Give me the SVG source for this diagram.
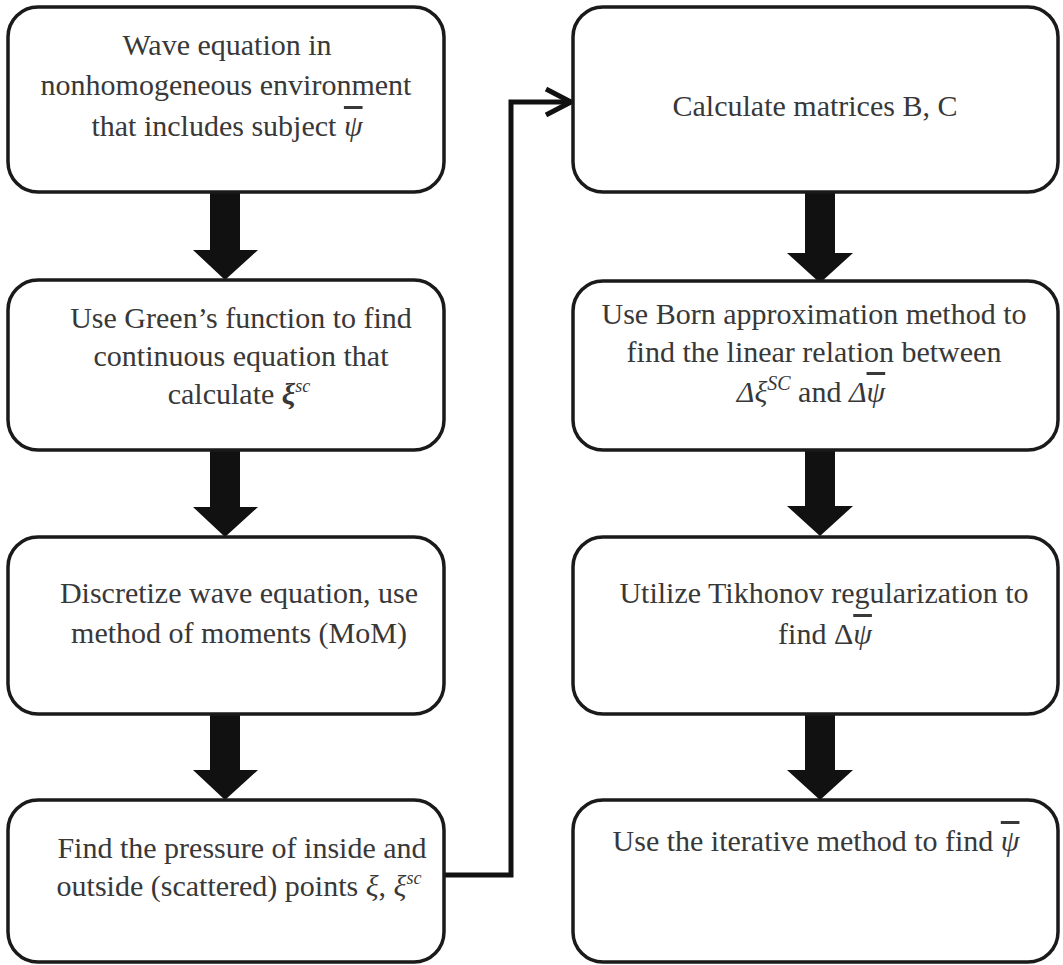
<svg xmlns="http://www.w3.org/2000/svg" width="1063" height="965" viewBox="0 0 1063 965">
<style>
.box{fill:#ffffff;stroke:#1a1a1a;stroke-width:3.5}
text{font-family:'Liberation Serif','Times New Roman','DejaVu Serif',serif;font-size:30px;fill:#383838;text-anchor:middle}
.m{font-style:italic}
.b{font-weight:bold}
.ov{text-decoration:overline}
.blk{fill:#111111}
.con{fill:none;stroke:#111111;stroke-width:5}
</style>
<defs>
<marker id="chev" viewBox="0 0 30 30" refX="27" refY="15" markerWidth="30" markerHeight="30" markerUnits="userSpaceOnUse" orient="auto">
<polyline points="2,2 27,15 2,28" fill="none" stroke="#111111" stroke-width="5"/>
</marker>
</defs>
<rect width="1063" height="965" fill="#ffffff"/>
<g id="connectors">
<polygon class="blk" points="210,192 240,192 240,250 258,250 225,280 193,250 210,250"/>
<polygon class="blk" points="210,450 240,450 240,507 258,507 225,537 193,507 210,507"/>
<polygon class="blk" points="210,714 240,714 240,770 258,770 225,800 193,770 210,770"/>
<polygon class="blk" points="805,192 835,192 835,253 853,253 820,283 787,253 805,253"/>
<polygon class="blk" points="805,450 835,450 835,506 853,506 820,536 787,506 805,506"/>
<polygon class="blk" points="805,714 835,714 835,770 853,770 820,800 787,770 805,770"/>
<polyline class="con" points="444,875 511,875 511,102 571,102" marker-end="url(#chev)"/>
</g>
<g id="n1">
<rect class="box" x="8" y="7" width="436" height="185" rx="30"/>
<text x="227" y="55">Wave equation in</text>
<text x="226" y="95">nonhomogeneous environment</text>
<text x="227" y="136">that includes subject <tspan class="m ov">ψ</tspan></text>
</g>
<g id="n2">
<rect class="box" x="8" y="280" width="436" height="170" rx="30"/>
<text x="241" y="328">Use Green’s function to find</text>
<text x="241" y="366">continuous equation that</text>
<text x="239" y="404">calculate <tspan class="m b">ξ</tspan><tspan class="m" font-size="18" dy="-12">sc</tspan></text>
</g>
<g id="n3">
<rect class="box" x="8" y="537" width="436" height="177" rx="30"/>
<text x="239" y="603">Discretize wave equation, use</text>
<text x="239" y="643">method of moments (MoM)</text>
</g>
<g id="n4">
<rect class="box" x="8" y="800" width="436" height="162" rx="30"/>
<text x="242" y="858">Find the pressure of inside and</text>
<text x="239" y="896">outside (scattered) points <tspan class="m">ξ</tspan>,  <tspan class="m">ξ</tspan><tspan class="m" font-size="18" dy="-12">sc</tspan></text>
</g>
<g id="n5">
<rect class="box" x="573" y="7" width="485" height="185" rx="30"/>
<text x="815" y="116">Calculate matrices B, C</text>
</g>
<g id="n6">
<rect class="box" x="573" y="281" width="485" height="169" rx="30"/>
<text x="814" y="324">Use Born approximation method to</text>
<text x="814" y="362">find the linear relation between</text>
<text x="811" y="402"><tspan class="m">Δξ</tspan><tspan class="m" font-size="20" dy="-12">SC</tspan><tspan dy="12"> and </tspan><tspan class="m">Δ</tspan><tspan class="m ov">ψ</tspan></text>
</g>
<g id="n7">
<rect class="box" x="573" y="537" width="485" height="177" rx="30"/>
<text x="824" y="603">Utilize Tikhonov regularization to</text>
<text x="825" y="644">find Δ<tspan class="m ov">ψ</tspan></text>
</g>
<g id="n8">
<rect class="box" x="573" y="800" width="485" height="162" rx="30"/>
<text x="816" y="851">Use the iterative method to find <tspan class="m ov">ψ</tspan></text>
</g>
</svg>
